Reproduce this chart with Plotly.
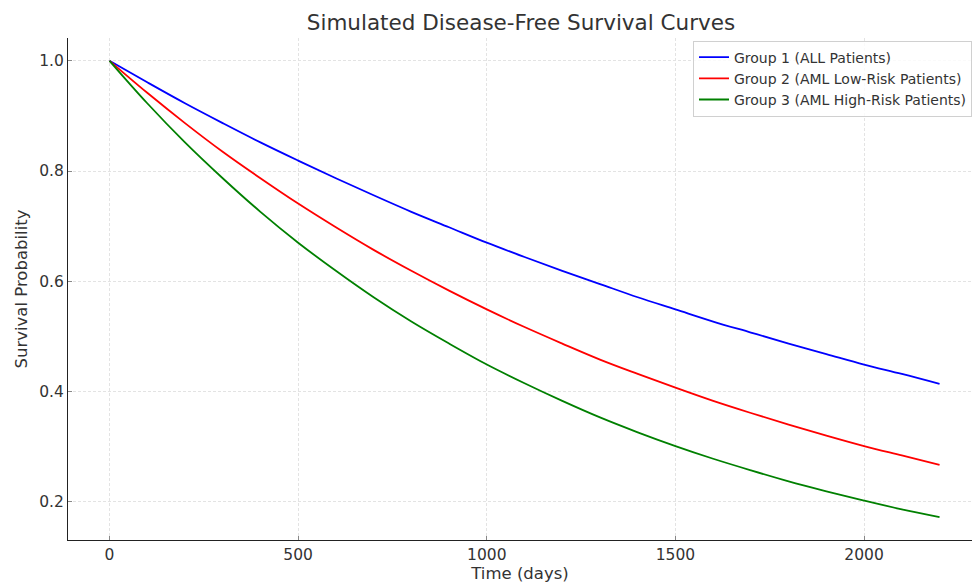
import plotly.graph_objects as go

days = [0, 100, 200, 300, 400, 500, 600, 700, 800, 900, 1000, 1100,
        1200, 1300, 1400, 1500, 1600, 1700, 1800, 1900, 2000, 2100, 2200]

group1 = [1.000, 0.961, 0.923, 0.887, 0.852, 0.819, 0.787, 0.756, 0.726, 0.698,
          0.670, 0.644, 0.619, 0.595, 0.571, 0.549, 0.527, 0.507, 0.487, 0.468,
          0.449, 0.432, 0.414]
group2 = [1.000, 0.942, 0.887, 0.835, 0.787, 0.741, 0.698, 0.657, 0.619, 0.583,
          0.549, 0.517, 0.487, 0.458, 0.432, 0.407, 0.383, 0.361, 0.340, 0.320,
          0.301, 0.284, 0.267]
group3 = [1.000, 0.923, 0.852, 0.787, 0.726, 0.670, 0.619, 0.571, 0.527, 0.487,
          0.449, 0.415, 0.383, 0.353, 0.326, 0.301, 0.278, 0.257, 0.237, 0.219,
          0.202, 0.186, 0.172]

names = ["Group 1 (ALL Patients)", "Group 2 (AML Low-Risk Patients)",
         "Group 3 (AML High-Risk Patients)"]
colors = ["#0000ff", "#ff0000", "#008000"]

fig = go.Figure()
for vals, name, col in zip([group1, group2, group3], names, colors):
    fig.add_trace(go.Scatter(x=days, y=vals, mode="lines", name=name,
                             line=dict(color=col, width=1.8, shape="spline")))

font = "DejaVu Sans, sans-serif"
fig.update_layout(
    width=972, height=584,
    paper_bgcolor="white", plot_bgcolor="white",
    margin=dict(l=68, r=0, t=38, b=44),
    font=dict(family=font, color="#333333", size=15.5),
    title=dict(text="Simulated Disease-Free Survival Curves", x=0.536, xanchor="center",
               y=0.961, yanchor="middle", font=dict(size=21.5, color="#333333")),
    showlegend=True,
    legend=dict(x=1.0, xanchor="right", y=0.995, yanchor="top",
                bgcolor="rgba(255,255,255,0.8)", bordercolor="#d0d0d0", borderwidth=1,
                font=dict(size=14, color="#333333"), tracegroupgap=0),
)
fig.update_xaxes(
    range=[-110, 2286], tickvals=[0, 500, 1000, 1500, 2000],
    showgrid=True, gridcolor="#e3e3e3", griddash="3px,2px", gridwidth=1,
    showline=True, linecolor="#222222", linewidth=1.2, mirror=False,
    ticks="inside", ticklen=4, tickcolor="#888888", zeroline=False,
    title=dict(text="Time (days)", font=dict(size=16.5), standoff=3),
    tickfont=dict(size=15.5),
)
fig.update_yaxes(
    range=[0.1306, 1.0414], tickvals=[0.2, 0.4, 0.6, 0.8, 1.0],
    tickformat=".1f",
    showgrid=True, gridcolor="#e3e3e3", griddash="3px,2px", gridwidth=1,
    showline=True, linecolor="#222222", linewidth=1.2, mirror=False,
    ticks="inside", ticklen=4, tickcolor="#888888", zeroline=False,
    title=dict(text="Survival Probability", font=dict(size=16.5), standoff=7),
    tickfont=dict(size=15.5),
)

fig.write_html("out.html", config={"displayModeBar": False},
               post_script="document.body.style.margin='0';document.body.style.overflow='hidden';")
